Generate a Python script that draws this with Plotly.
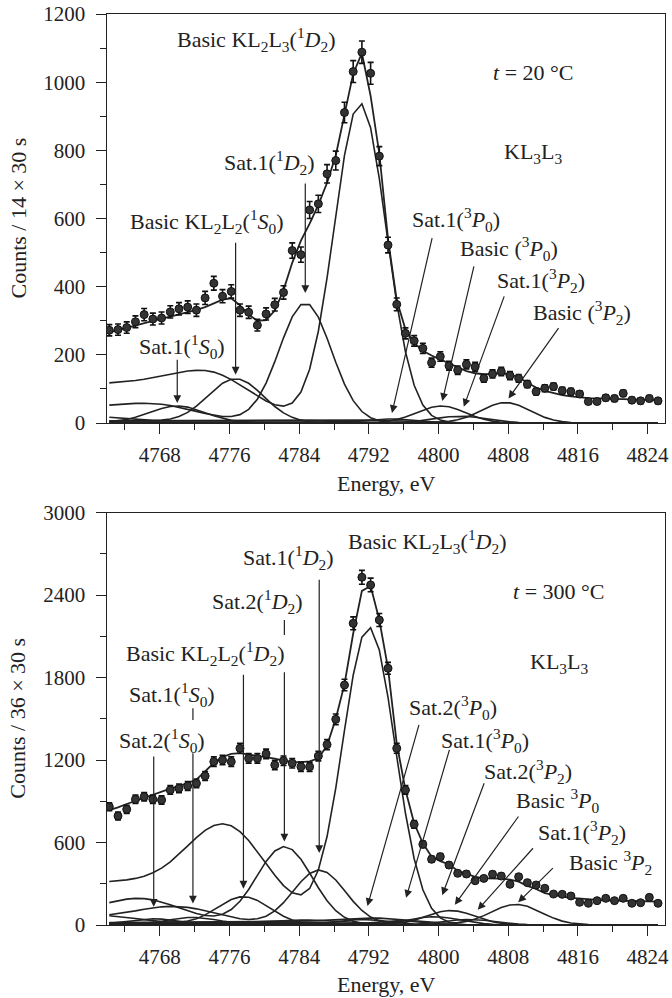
import numpy as np
import plotly.graph_objects as go

# ---------------------------------------------------------------- data
energy = [4762.2, 4763.2, 4764.2, 4765.2, 4766.2, 4767.2, 4768.2, 4769.2,
          4770.2, 4771.2, 4772.2, 4773.2, 4774.2, 4775.2, 4776.2, 4777.2,
          4778.2, 4779.2, 4780.2, 4781.2, 4782.2, 4783.2, 4784.2, 4785.2,
          4786.2, 4787.2, 4788.2, 4789.2, 4790.2, 4791.2, 4792.2, 4793.2,
          4794.2, 4795.2, 4796.2, 4797.2, 4798.2, 4799.2, 4800.2, 4801.2,
          4802.2, 4803.2, 4804.2, 4805.2, 4806.2, 4807.2, 4808.2, 4809.2,
          4810.2, 4811.2, 4812.2, 4813.2, 4814.2, 4815.2, 4816.2, 4817.2,
          4818.2, 4819.2, 4820.2, 4821.2, 4822.2, 4823.2, 4824.2, 4825.2]

# t = 20 C spectrum
counts_20 = [272, 274, 280, 297, 318, 305, 308, 326, 335, 340, 331, 367, 410, 372, 386, 331,
             325, 287, 320, 347, 383, 506, 494, 625, 643, 731, 770, 911, 1031, 1088, 1026, 783,
             522, 348, 263, 241, 219, 177, 195, 168, 155, 172, 165, 131, 144, 151, 139, 131,
             114, 92, 102, 107, 95, 92, 85, 63, 63, 74, 72, 87, 67, 65, 72, 65]
err_20 = [16.5, 16.6, 16.7, 17.2, 17.8, 17.5, 17.5, 18.1, 18.3, 18.4, 18.2, 19.2, 20.2, 19.3, 19.6, 18.2,
          18.0, 16.9, 17.9, 18.6, 19.6, 22.5, 22.2, 25.0, 25.4, 27.0, 27.7, 30.2, 32.1, 33.0, 32.0, 28.0,
          22.8, 18.7, 16.2, 15.5, 14.8, 13.3, 14.0, 13.0, 12.4, 13.1, 12.8, 11.4, 12.0, 12.3, 11.8, 11.4,
          10.7, 9.6, 10.1, 10.3, 9.7, 9.6, 9.2, 7.9, 7.9, 8.6, 8.5, 9.3, 8.2, 8.1, 8.5, 8.1]
fit_20 = [266, 273, 280, 287, 294, 300, 306, 312, 318, 325, 332, 340, 352, 362, 366, 345,
          318, 300, 302, 330, 390, 470, 535, 585, 640, 705, 785, 900, 1025, 1085, 960, 790,
          540, 360, 275, 235, 212, 198, 186, 174, 162, 152, 146, 143, 144, 146, 143, 134,
          118, 104, 94, 87, 82, 78, 75, 73, 72, 71, 70, 69, 68, 68, 67, 67]

# t = 300 C spectrum
counts_300 = [860, 793, 841, 914, 933, 914, 909, 982, 994, 1011, 1030, 1084, 1188, 1200, 1188, 1285,
              1212, 1212, 1244, 1164, 1195, 1176, 1151, 1151, 1229, 1312, 1496, 1745, 2194, 2529, 2473, 2218,
              1867, 1285, 982, 732, 587, 478, 497, 436, 376, 371, 322, 339, 369, 356, 296, 351,
              308, 291, 267, 225, 223, 211, 165, 158, 177, 194, 177, 194, 158, 162, 201, 158]
err_300 = [29.3, 28.2, 29.0, 30.2, 30.5, 30.2, 30.1, 31.3, 31.5, 31.8, 32.1, 32.9, 34.5, 34.6, 34.5, 35.8,
           34.8, 34.8, 35.3, 34.1, 34.6, 34.3, 33.9, 33.9, 35.1, 36.2, 38.7, 41.8, 46.8, 50.3, 49.7, 47.1,
           43.2, 35.8, 31.3, 27.1, 24.2, 21.9, 22.3, 20.9, 19.4, 19.3, 17.9, 18.4, 19.2, 18.9, 17.2, 18.7,
           17.5, 17.1, 16.3, 15.0, 14.9, 14.5, 12.8, 12.6, 13.3, 13.9, 13.3, 13.9, 12.6, 12.7, 14.2, 12.6]
fit_300 = [836, 855, 880, 903, 925, 948, 972, 992, 1012, 1032, 1058, 1115, 1178, 1222, 1245, 1250,
           1240, 1232, 1222, 1210, 1195, 1186, 1185, 1190, 1212, 1305, 1500, 1750, 2120, 2430, 2465, 2218,
           1867, 1320, 982, 740, 594, 497, 465, 440, 395, 370, 350, 340, 340, 338, 330, 315,
           285, 262, 232, 218, 207, 198, 192, 187, 183, 180, 178, 176, 174, 172, 171, 170]

# fitted line components: centre (eV), height (counts), Gaussian sigma (eV)
comp20_center = [4791.0, 4784.7, 4776.7, 4770.0, 4794.5, 4800.3, 4802.5, 4807.7]
comp20_height = [938, 352, 130, 50, 12, 50, 20, 60]
comp20_sigma = [3.0, 3.0, 3.2, 3.2, 3.0, 2.8, 3.0, 2.8]

comp300_center = [4792.0, 4786.3, 4782.3, 4777.6, 4771.8, 4767.3,
                  4791.4, 4795.5, 4799.5, 4801.4, 4803.5, 4808.9]
comp300_height = [2165, 400, 570, 206, 55, 45, 40, 30, 60, 105, 40, 150]
comp300_sigma = [3.0, 3.0, 3.2, 3.0, 3.0, 3.0, 3.0, 3.0, 3.0, 2.8, 3.0, 2.9]

# low-energy loss tail carried by every component
tail20 = dict(shift=18.3, ratio=0.165, sl=4.0, sr=5.6, floor=0.78, sb=40.0)
tail300 = dict(shift=16.8, ratio=0.34, sl=4.0, sr=5.0, floor=0.45, sb=40.0)


def line_profile(x, c, h, s, t):
    x = np.asarray(x, dtype=float)
    g = h * np.exp(-(x - c) ** 2 / (2 * s * s))
    d = x - (c - t["shift"])
    ht = h * t["ratio"]
    left = ht * ((1 - t["floor"]) * np.exp(-d ** 2 / (2 * t["sl"] ** 2))
                 + t["floor"] * np.exp(-d ** 2 / (2 * t["sb"] ** 2)))
    right = ht * np.exp(-d ** 2 / (2 * t["sr"] ** 2))
    return g + np.where(d < 0, left, right)


FONT = "Liberation Serif, Times New Roman, serif"
INK = "#222222"
fig = go.Figure()


def add_panel(xa, ya, counts, err, fit, centers, heights, sigmas, tail):
    for c, h, s in zip(centers, heights, sigmas):
        fig.add_trace(go.Scatter(x=energy, y=line_profile(energy, c, h, s, tail),
                                 mode="lines", line=dict(color=INK, width=1.6),
                                 xaxis=xa, yaxis=ya, showlegend=False, hoverinfo="skip"))
    fig.add_trace(go.Scatter(x=energy, y=fit, mode="lines",
                             line=dict(color=INK, width=1.8),
                             xaxis=xa, yaxis=ya, showlegend=False))
    fig.add_trace(go.Scatter(x=energy, y=counts, mode="markers",
                             marker=dict(size=8, color="#333333",
                                         line=dict(color="#111111", width=1)),
                             error_y=dict(type="data", array=err, visible=True,
                                          color="#111111", thickness=1.6, width=3),
                             xaxis=xa, yaxis=ya, showlegend=False))


add_panel("x", "y", counts_20, err_20, fit_20,
          comp20_center, comp20_height, comp20_sigma, tail20)
add_panel("x2", "y2", counts_300, err_300, fit_300,
          comp300_center, comp300_height, comp300_sigma, tail300)

# ---------------------------------------------------------------- labels
lab20 = [
    ("Basic KL<sub>2</sub>L<sub>3</sub>(<sup>1</sup><i>D</i><sub>2</sub>)", 4779.1, 1124),
    ("<i>t</i> = 20 °C", 4810.9, 1027),
    ("KL<sub>3</sub>L<sub>3</sub>", 4810.9, 792),
    ("Sat.1(<sup>1</sup><i>D</i><sub>2</sub>)", 4780.6, 763),
    ("Basic KL<sub>2</sub>L<sub>2</sub>(<sup>1</sup><i>S</i><sub>0</sub>)", 4773.4, 590),
    ("Sat.1(<sup>1</sup><i>S</i><sub>0</sub>)", 4770.6, 223),
    ("Sat.1(<sup>3</sup><i>P</i><sub>0</sub>)", 4802.0, 596),
    ("Basic (<sup>3</sup><i>P</i><sub>0</sub>)", 4808.1, 511),
    ("Sat.1(<sup>3</sup><i>P</i><sub>2</sub>)", 4811.8, 417),
    ("Basic (<sup>3</sup><i>P</i><sub>2</sub>)", 4816.5, 323),
]
lab300 = [
    ("Basic KL<sub>2</sub>L<sub>3</sub>(<sup>1</sup><i>D</i><sub>2</sub>)", 4798.7, 2786),
    ("<i>t</i> = 300 °C", 4813.8, 2429),
    ("KL<sub>3</sub>L<sub>3</sub>", 4813.8, 1905),
    ("Sat.1(<sup>1</sup><i>D</i><sub>2</sub>)", 4782.8, 2676),
    ("Sat.2(<sup>1</sup><i>D</i><sub>2</sub>)", 4779.2, 2356),
    ("Basic KL<sub>2</sub>L<sub>2</sub>(<sup>1</sup><i>D</i><sub>2</sub>)", 4773.2, 1978),
    ("Sat.1(<sup>1</sup><i>S</i><sub>0</sub>)", 4769.4, 1680),
    ("Sat.2(<sup>1</sup><i>S</i><sub>0</sub>)", 4768.3, 1345),
    ("Sat.2(<sup>3</sup><i>P</i><sub>0</sub>)", 4801.7, 1585),
    ("Sat.1(<sup>3</sup><i>P</i><sub>0</sub>)", 4805.3, 1345),
    ("Sat.2(<sup>3</sup><i>P</i><sub>2</sub>)", 4810.3, 1120),
    ("Basic <sup>3</sup><i>P</i><sub>0</sub>", 4813.7, 902),
    ("Sat.1(<sup>3</sup><i>P</i><sub>2</sub>)", 4816.5, 676),
    ("Basic <sup>3</sup><i>P</i><sub>2</sub>", 4819.7, 451),
]
for labs, xr, yr in ((lab20, "x", "y"), (lab300, "x2", "y2")):
    for txt, lx, ly in labs:
        fig.add_annotation(x=lx, y=ly, xref=xr, yref=yr, text=txt, showarrow=False,
                           xanchor="center", yanchor="middle",
                           font=dict(family=FONT, size=22, color=INK))

# arrows: component index, tail x (None = vertical), tail y, standoff px
arr20 = [(1, None, 707, 10), (2, None, 533, 4), (3, None, 190, 3),
         (4, 4799.3, 547, 6), (5, 4804.1, 464, 5), (6, 4807.6, 376, 10), (7, 4813.9, 283, 5)]
arr300 = [(1, None, 2522, 17), (2, None, 1850, 5), (3, None, 1831, 8),
          (4, None, 1260, 14), (5, None, 1236, 12),
          (6, 4797.8, 1466, 14), (7, 4801.3, 1285, 24), (8, 4805.3, 1042, 23),
          (9, 4809.3, 800, 7), (10, 4811.0, 569, 13), (11, 4813.3, 424, 3)]


def add_arrows(arrs, centers, heights, sigmas, tail, xr, yr):
    for k, tx, ty, so in arrs:
        c = centers[k]
        top = float(line_profile([c], c, heights[k], sigmas[k], tail)[0])
        fig.add_annotation(x=c, y=top, ax=c if tx is None else tx, ay=ty,
                           xref=xr, yref=yr, axref=xr, ayref=yr, text="",
                           showarrow=True, arrowhead=2, arrowsize=1.3, arrowwidth=1.2,
                           arrowcolor=INK, standoff=so)


add_arrows(arr20, comp20_center, comp20_height, comp20_sigma, tail20, "x", "y")
add_arrows(arr300, comp300_center, comp300_height, comp300_sigma, tail300, "x2", "y2")

# short leader pieces above labels that interrupt the lines
for k, y0, y1 in ((2, 2218, 2109), (4, 1576, 1491)):
    fig.add_shape(type="line", xref="x2", yref="y2",
                  x0=comp300_center[k], x1=comp300_center[k], y0=y0, y1=y1,
                  line=dict(color=INK, width=1.2))

# ---------------------------------------------------------------- axes
W, H = 672, 998
xdom = [106.7 / W, 665.0 / W]
ydom20 = [1 - 423 / H, 1 - 14 / H]
ydom300 = [1 - 925 / H, 1 - 512.5 / H]

tickfont = dict(family=FONT, size=21, color=INK)
xcommon = dict(range=[4761.9, 4826.0], tick0=4768, dtick=8, ticks="outside", ticklen=10,
               tickwidth=1.3, tickcolor=INK, showline=True, linecolor=INK, linewidth=1.3,
               mirror=True, showgrid=False, zeroline=False, tickfont=tickfont,
               ticklabelstandoff=3, automargin=False,
               minor=dict(dtick=4, tick0=4768, ticks="outside", ticklen=6,
                          tickwidth=1.3, tickcolor=INK, showgrid=False))
ycommon = dict(ticks="outside", ticklen=10, tickwidth=1.3, tickcolor=INK, showline=True,
               linecolor=INK, linewidth=1.3, mirror=True, showgrid=False, zeroline=False,
               tickfont=tickfont, ticklabelstandoff=6, automargin=False)

fig.update_layout(
    width=W, height=H, margin=dict(l=0, r=0, t=0, b=0, autoexpand=False),
    paper_bgcolor="white", plot_bgcolor="white",
    xaxis=dict(domain=xdom, anchor="y", **xcommon),
    yaxis=dict(domain=ydom20, anchor="x", range=[0, 1200], dtick=200,
               minor=dict(dtick=100, ticks="outside", ticklen=6, tickwidth=1.3,
                          tickcolor=INK, showgrid=False), **ycommon),
    xaxis2=dict(domain=xdom, anchor="y2", **xcommon),
    yaxis2=dict(domain=ydom300, anchor="x2", range=[0, 3000], dtick=600,
                minor=dict(dtick=300, ticks="outside", ticklen=6, tickwidth=1.3,
                           tickcolor=INK, showgrid=False), **ycommon),
)

# axis titles
titlefont = dict(family=FONT, size=22, color=INK)
xc = (xdom[0] + xdom[1]) / 2
for ypx in (483, 984):
    fig.add_annotation(x=xc, y=1 - ypx / H, xref="paper", yref="paper", text="Energy, eV",
                       xanchor="center", yanchor="middle",
                       showarrow=False, font=titlefont)
for txt, dom in (("Counts / 14 × 30 s", ydom20), ("Counts / 36 × 30 s", ydom300)):
    fig.add_annotation(x=18 / W, y=(dom[0] + dom[1]) / 2, xref="paper", yref="paper",
                       text=txt, textangle=-90, xanchor="center", yanchor="middle",
                       showarrow=False, font=titlefont)

fig.write_html("out.html")
